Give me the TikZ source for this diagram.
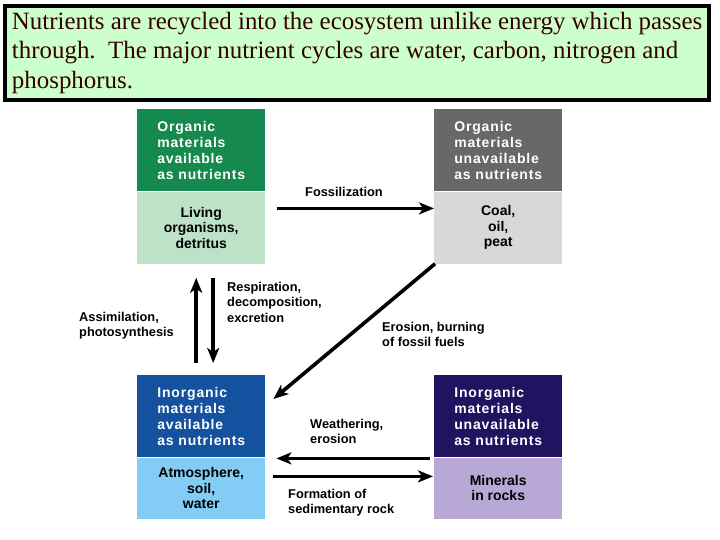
\documentclass[tikz,border=0pt]{standalone}
\usepackage{fontspec}
\setmainfont{Liberation Serif}
\setsansfont{Liberation Sans}
\newfontfamily\boxfont[LetterSpace=6]{Liberation Sans}
\definecolor{titlegreen}{RGB}{204,255,204}
\definecolor{titletext}{RGB}{51,0,0}
\definecolor{orgdark}{RGB}{22,138,78}
\definecolor{orglight}{RGB}{190,226,200}
\definecolor{fosdark}{RGB}{104,104,104}
\definecolor{foslight}{RGB}{216,216,216}
\definecolor{inodark}{RGB}{20,82,160}
\definecolor{inolight}{RGB}{130,204,245}
\definecolor{rockdark}{RGB}{32,20,96}
\definecolor{rocklight}{RGB}{184,168,214}
\usetikzlibrary{arrows.meta, positioning}

\begin{document}
\begin{tikzpicture}[x=1pt, y=1pt,
    head/.style={rectangle, minimum width=128pt, minimum height=82pt, inner sep=0pt,
                 align=left, text=white, anchor=north west,
                 font=\boxfont\bfseries\fontsize{14}{16}\selectfont},
    base/.style={rectangle, minimum width=128pt, inner sep=0pt, align=center,
                 font=\sffamily\bfseries\fontsize{14}{15.5}\selectfont},
    lbl/.style={align=left, inner sep=0pt, anchor=north west,
                font=\sffamily\bfseries\fontsize{12.8}{15.5}\selectfont},
    arr/.style={-{Stealth[length=15pt, width=12pt, inset=4pt]}, line width=3.6pt}
  ]
  \useasboundingbox (0,0) rectangle (720,-540);

  % header text
  \node[draw, line width=4pt, fill=titlegreen, anchor=north west,
        minimum height=94pt, inner xsep=7pt, align=left, text=titletext,
        font=\fontsize{24.9}{29.5}\selectfont] (title) at (3,-4)
       {Nutrients are recycled into the ecosystem unlike energy which passes\\
        through.\ \ The major nutrient cycles are water, carbon, nitrogen and\\
        phosphorus.};

  % the four pools
  \node[head, fill=orgdark] (orghead) at (137,-109) {Organic\\materials\\available\\as nutrients};
  \node[base, fill=orglight, minimum height=72pt, below=0pt of orghead] (orgbase) {Living\\organisms,\\detritus};

  \node[head, fill=fosdark] (foshead) at (434,-109) {Organic\\materials\\unavailable\\as nutrients};
  \node[base, fill=foslight, minimum height=72pt, below=0pt of foshead] (fosbase) {Coal,\\oil,\\peat};

  \node[head, fill=inodark] (inohead) at (137,-375) {Inorganic\\materials\\available\\as nutrients};
  \node[base, fill=inolight, minimum height=61pt, below=0pt of inohead] (inobase) {Atmosphere,\\soil,\\water};

  \node[head, fill=rockdark] (rockhead) at (434,-375) {Inorganic\\materials\\unavailable\\as nutrients};
  \node[base, fill=rocklight, minimum height=61pt, below=0pt of rockhead] (rockbase) {Minerals\\in rocks};

  % processes
  \node[lbl] (fossil) at (305,-187) {Fossilization};
  \node[lbl] (resp) at (227,-282) {Respiration,\\decomposition,\\excretion};
  \node[lbl] (assim) at (79,-312) {Assimilation,\\photosynthesis};
  \node[lbl] (erosion) at (382,-322) {Erosion, burning\\of fossil fuels};
  \node[lbl] (weather) at (310,-419) {Weathering,\\erosion};
  \node[lbl] (sediment) at (288,-489) {Formation of\\sedimentary rock};

  \draw[arr] ([xshift=12pt,yshift=-17pt]orgbase.north east) -- ([yshift=-17pt]fosbase.north west);
  \draw[arr] ([xshift=-5pt,yshift=12pt]inohead.north) -- ([xshift=-5pt,yshift=-14pt]orgbase.south);
  \draw[arr] ([xshift=12pt,yshift=-14pt]orgbase.south) -- ([xshift=12pt,yshift=12pt]inohead.north);
  \draw[arr] ([xshift=1pt]fosbase.south west) -- ([xshift=8pt,yshift=-24pt]inohead.north east);
  \draw[arr] ([xshift=-4pt,yshift=-1pt]rockbase.north west) -- ([xshift=11pt,yshift=-1pt]inobase.north east);
  \draw[arr] ([xshift=8pt,yshift=-19pt]inobase.north east) -- ([xshift=-1pt,yshift=-19pt]rockbase.north west);
\end{tikzpicture}
\end{document}
